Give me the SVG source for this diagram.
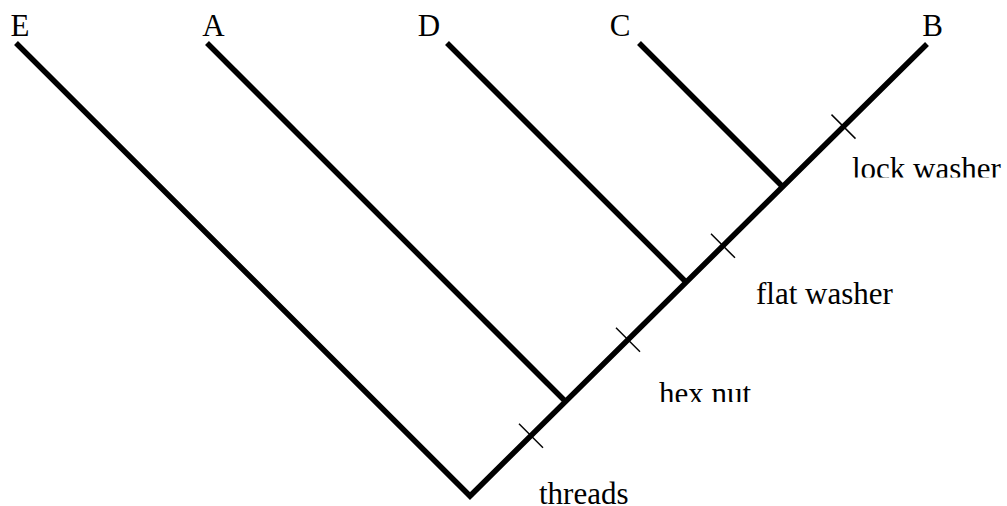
<svg xmlns="http://www.w3.org/2000/svg" width="1007" height="506" viewBox="0 0 1007 506">
  <style>
    .branch { stroke: #000; stroke-width: 5.5; fill: none; stroke-linecap: butt; stroke-linejoin: miter; }
    .tick { stroke: #000; stroke-width: 1.5; }
    .taxon { font-family: "Liberation Serif", "Times New Roman", serif; font-size: 31px; fill: #000; text-anchor: middle; }
    .trait { font-family: "Liberation Serif", "Times New Roman", serif; font-size: 31px; fill: #000; }
  </style>
  <defs>
    <clipPath id="clip-lock"><rect x="840" y="140" width="167" height="37.5"/></clipPath>
    <clipPath id="clip-flat"><rect x="740" y="260" width="200" height="44"/></clipPath>
    <clipPath id="clip-hex"><rect x="640" y="360" width="150" height="42"/></clipPath>
    <clipPath id="clip-threads"><rect x="520" y="460" width="150" height="46"/></clipPath>
  </defs>
  <rect width="1007" height="506" fill="#fff"/>

  <!-- branches of the tree -->
  <g id="connectors">
    <path class="branch" d="M16,43 L470,496 L927,44"/>
    <path class="branch" d="M207,43 L565.5,401.5"/>
    <path class="branch" d="M447,43 L686.2,282.2"/>
    <path class="branch" d="M639,43 L782.7,186.7"/>
    <!-- character marks on the main stem -->
    <line class="tick" x1="519" y1="423.7" x2="543" y2="447.7"/>
    <line class="tick" x1="616" y1="327.7" x2="640" y2="351.7"/>
    <line class="tick" x1="711" y1="233.8" x2="735" y2="257.8"/>
    <line class="tick" x1="831.5" y1="114.6" x2="855.5" y2="138.6"/>
  </g>

  <!-- taxa -->
  <g id="taxon-E"><text class="taxon" x="20" y="36">E</text></g>
  <g id="taxon-A"><text class="taxon" x="213.5" y="36">A</text></g>
  <g id="taxon-D"><text class="taxon" x="429" y="36">D</text></g>
  <g id="taxon-C"><text class="taxon" x="620" y="36">C</text></g>
  <g id="taxon-B"><text class="taxon" x="932.5" y="36">B</text></g>

  <!-- shared characters -->
  <g id="trait-threads" clip-path="url(#clip-threads)"><text class="trait" x="539" y="504">threads</text></g>
  <g id="trait-hex-nut" clip-path="url(#clip-hex)"><text class="trait" x="659" y="404">hex nut</text></g>
  <g id="trait-flat-washer" clip-path="url(#clip-flat)"><text class="trait" x="756" y="304">flat washer</text></g>
  <g id="trait-lock-washer" clip-path="url(#clip-lock)"><text class="trait" x="852" y="179">lock washer</text></g>
</svg>
